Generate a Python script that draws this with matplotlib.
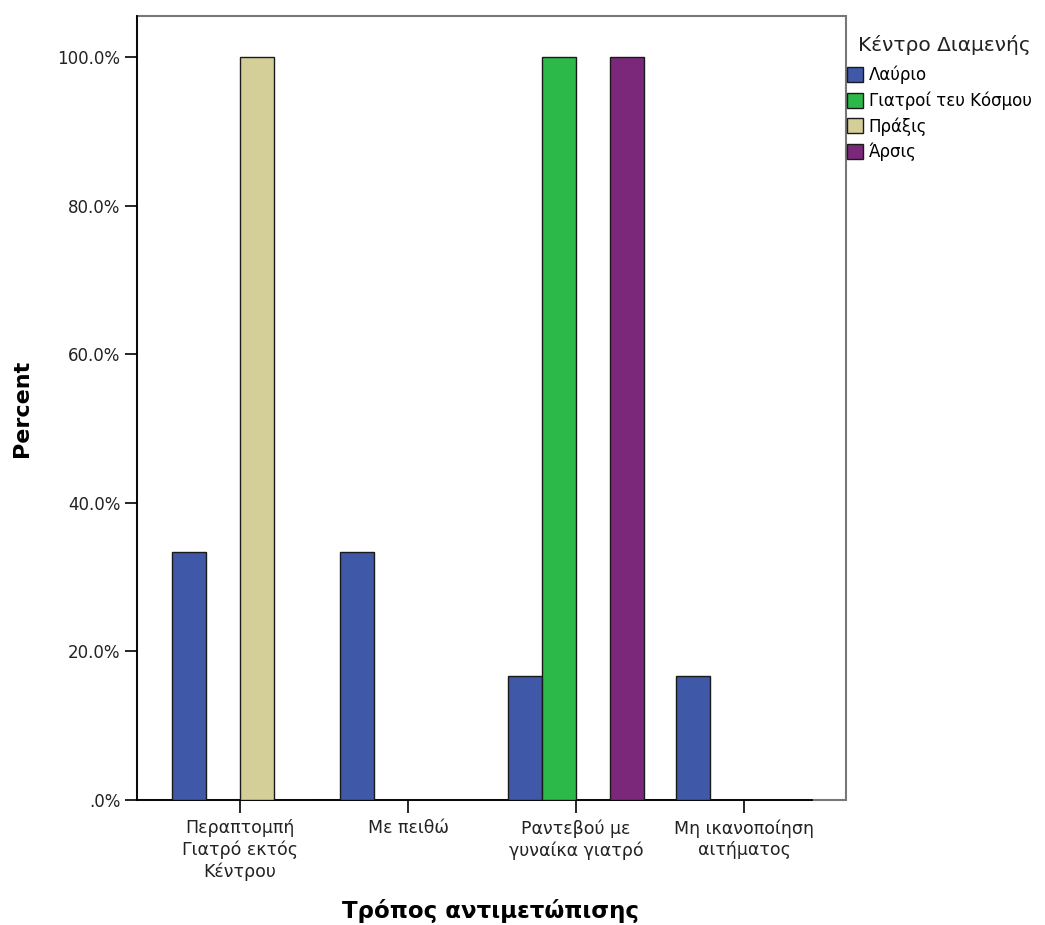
import numpy as np
import matplotlib.pyplot as plt
from matplotlib.patches import Rectangle

plt.rcParams['font.family'] = ['DejaVu Sans']

# categories (x axis) and series (one per centre)
categories = ['Περαπτομπή\nΓιατρό εκτός\nΚέντρου', 'Με πειθώ',
              'Ραντεβού με\nγυναίκα γιατρό', 'Μη ικανοποίηση\nαιτήματος']
series_names = ['Λαύριο', 'Γιατροί τευ Κόσμου', 'Πράξις', 'Άρσις']
lavrio = [33.33, 33.33, 16.67, 16.67]
giatroi = [0.0, 0.0, 100.0, 0.0]
praxis = [100.0, 0.0, 0.0, 0.0]
arsis = [0.0, 0.0, 100.0, 0.0]
series_values = [lavrio, giatroi, praxis, arsis]
colors = ['#3f58a8', '#2db84a', '#d4cf98', '#7b287a']
yticks = [0, 20, 40, 60, 80, 100]
ytick_labels = ['.0%', '20.0%', '40.0%', '60.0%', '80.0%', '100.0%']

W, H = 1045, 925
fig = plt.figure(figsize=(W / 100, H / 100), dpi=100)
left, right, top, bottom = 137, 846, 16, 800
ax = fig.add_axes([left / W, 1 - bottom / H, (right - left) / W, (bottom - top) / H])

x = np.arange(len(categories))
width = 34 / 168
for i, (name, vals) in enumerate(zip(series_names, series_values)):
    ax.bar(x + (i - 1.5) * width, vals, width, color=colors[i], edgecolor='#1a1a1a',
           linewidth=1.0, label=name, zorder=3)

ax.set_xlim(-103 / 168, (right - 240) / 168)
ax.set_ylim(0, (bottom - top) / 743 * 100)
ax.set_xticks(x)
ax.set_xticklabels(categories, fontsize=12.5, linespacing=1.22, color='#222222')
ax.set_yticks(yticks)
ax.set_yticklabels(ytick_labels, fontsize=12, color='#222222')
ax.tick_params(axis='both', direction='out', length=9, width=1.2, color='black')
ax.tick_params(axis='x', pad=5)
ax.tick_params(axis='y', pad=3)

# axis lines and grey frame
for s in ['top', 'right']:
    ax.spines[s].set_visible(False)
ax.spines['left'].set_linewidth(1.3)
ax.spines['bottom'].set_linewidth(1.3)
ax.spines['bottom'].set_bounds(-103 / 168, (812 - 240) / 168)
ax.add_patch(Rectangle((0, 0), 1, 1, transform=ax.transAxes, fill=False,
                       edgecolor='#777777', linewidth=1.5, zorder=1, clip_on=False))

fig.text(22 / W, 1 - 408 / H, 'Percent', rotation=90, ha='center', va='center',
         fontsize=16, fontweight='bold')
fig.text(491 / W, 1 - 911 / H, 'Τρόπος αντιμετώπισης', ha='center', va='center',
         fontsize=16.5, fontweight='bold')

fig.text(858 / W, 1 - 45 / H, 'Κέντρο Διαμενής', ha='left', va='center',
         fontsize=14.5, color='#222222')
leg = ax.legend(loc='upper left', bbox_to_anchor=(847 / W, 1 - 66 / H),
                bbox_transform=fig.transFigure, frameon=False,
                fontsize=12, handlelength=0.95, handleheight=1.0, handletextpad=0.35,
                labelspacing=0.42, borderaxespad=0, borderpad=0)

fig.savefig('out.png', dpi=100)
